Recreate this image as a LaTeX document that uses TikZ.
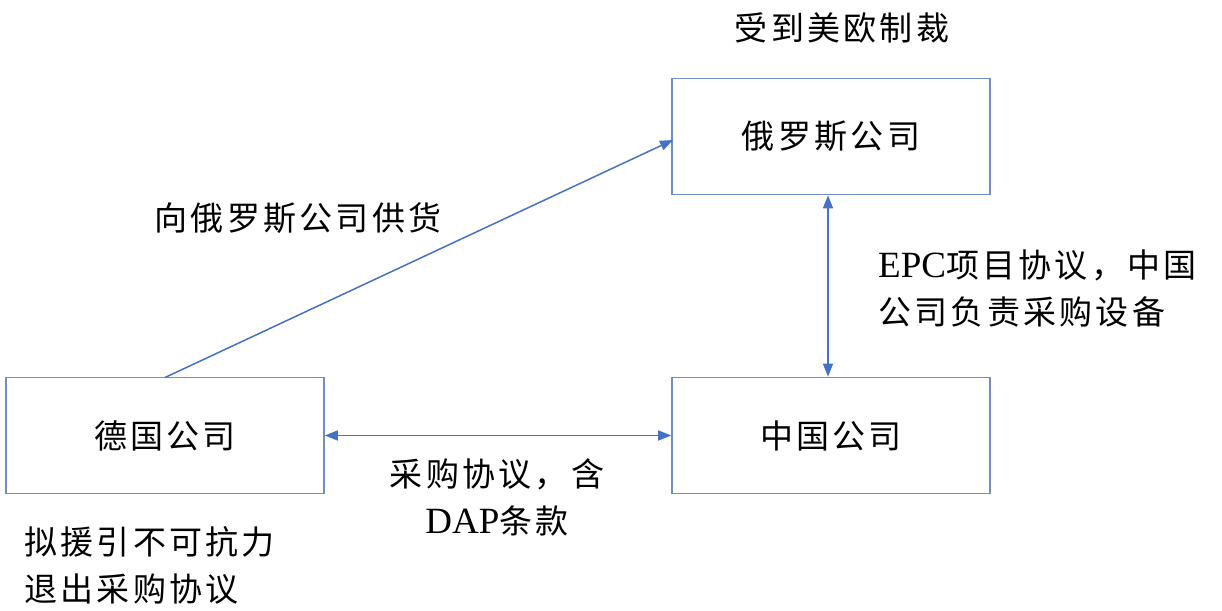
\documentclass[tikz,border=0pt]{standalone}
\usepackage{fontspec}
\setmainfont{Liberation Serif}
\newfontfamily\cjk[LetterSpace=10]{Noto Sans CJK SC}
\usetikzlibrary{arrows.meta}
\definecolor{boxline}{HTML}{6F8FC0}
\definecolor{arrline}{HTML}{4472C4}
\newcommand\latn[1]{{\fontsize{37}{47}\selectfont #1}}
\tikzset{
  company/.style={draw=boxline, line width=1.6pt, minimum width=318pt, minimum height=116pt, inner sep=0pt, font=\fontsize{33}{40}\selectfont\cjk},
  label/.style={font=\fontsize{33}{47}\selectfont, inner sep=0pt, align=left},
  conn/.style={draw=arrline, line width=1.5pt},
  tip/.style={-{Triangle[length=13pt,width=10pt]}},
  tips/.style={{Triangle[length=13pt,width=10pt]}-{Triangle[length=13pt,width=10pt]}}
}
\begin{document}
\begin{tikzpicture}[x=1pt,y=-1pt]
\useasboundingbox (0,0) rectangle (1222,610);
\node[company] (ru) at (831,136.5) {俄罗斯公司};
\node[company] (cn) at (831,435.5) {中国公司};
\node[company] (de) at (165,435.5) {德国公司};
\coordinate (destart) at (165,377.5);
\coordinate (ruin) at (673,140);
\draw[conn,tip] (destart) -- (ruin);
\draw[conn,tips] (ru.south -| 828,0) -- (cn.north -| 828,0);
\draw[conn,tips] (de.east) -- (cn.west);
\node[label] (sanc) at (842,28) {\cjk 受到美欧制裁};
\node[label] (supply) at (298,218) {\cjk 向俄罗斯公司供货};
\node[label, anchor=west] (epc) at (878,289) {\latn{EPC}\cjk 项目协议，中国\\\cjk 公司负责采购设备};
\node[label, align=center] (dap) at (497,497) {\cjk 采购协议，含\\\latn{DAP}\cjk 条款};
\node[label, anchor=west] (force) at (24,565) {\cjk 拟援引不可抗力\\\cjk 退出采购协议};
\end{tikzpicture}
\end{document}
